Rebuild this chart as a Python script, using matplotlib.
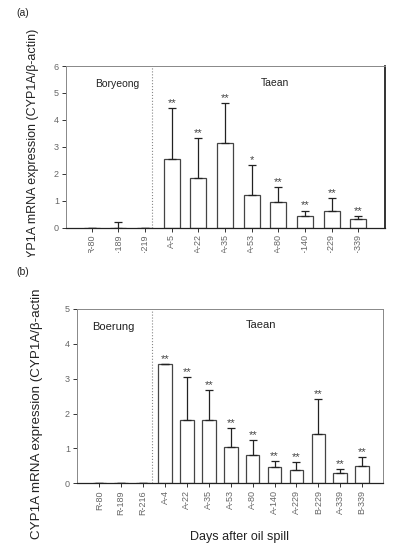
import numpy as np
import matplotlib
matplotlib.use("Agg")
import matplotlib.pyplot as plt
from matplotlib.transforms import Bbox, TransformedBbox

plt.rcParams['font.family'] = ['Liberation Sans', 'DejaVu Sans']

# ---- panel (a) data ----
a_labels = ['R-80', 'R-189', 'R-219', 'A-5', 'A-22', 'A-35', 'A-53', 'A-80', 'A-140', 'A-229', 'A-339']
a_vals = [0, 0, 0, 2.54, 1.83, 3.13, 1.19, 0.93, 0.41, 0.61, 0.31]
a_tops = [0, 0.22, 0, 4.44, 3.32, 4.61, 2.31, 1.51, 0.63, 1.10, 0.43]
a_stars = ['', '', '', '**', '**', '**', '*', '**', '**', '**', '**']

# ---- panel (b) data ----
b_labels = ['R-80', 'R-189', 'R-216', 'A-4', 'A-22', 'A-35', 'A-53', 'A-80', 'A-140', 'A-229',
            'B-229', 'A-339', 'B-339']
b_vals = [0, 0, 0, 3.42, 1.83, 1.83, 1.04, 0.81, 0.48, 0.38, 1.42, 0.29, 0.49]
b_tops = [0, 0, 0.02, 3.42, 3.06, 2.68, 1.59, 1.24, 0.64, 0.61, 2.43, 0.40, 0.75]
b_stars = ['', '', '', '**', '**', '**', '**', '**', '**', '**', '**', '**', '**']

GRAY = '#666666'
EDGE = '#444444'

fig = plt.figure(figsize=(4.0, 5.53), dpi=100)
W, H = 400.0, 553.0


def px_axes(l, t, r, b):
    return fig.add_axes([l / W, 1 - b / H, (r - l) / W, (b - t) / H])


def draw_panel(ax, labels, vals, tops, stars, ymax, xlim, divider, width):
    x = np.arange(len(labels))
    vals = np.array(vals)
    err = np.array(tops) - vals
    ax.bar(x, vals, width=width, color='white', edgecolor=EDGE, linewidth=0.9, zorder=2)
    ax.errorbar(x, vals, yerr=[np.zeros_like(err), err], fmt='none', ecolor='#222222',
                elinewidth=0.9, capsize=2.6, capthick=0.9, zorder=3)
    for xi, top, s in zip(x, tops, stars):
        if s:
            ax.annotate(s, (xi, top), xytext=(0, 0), textcoords='offset points',
                        ha='center', va='bottom', fontsize=8, color='#444444')
    ax.axvline(divider, color='#888888', linestyle=':', linewidth=0.8, zorder=1)
    ax.set_xlim(*xlim)
    ax.set_ylim(0, ymax)
    ax.set_yticks(range(ymax + 1))
    ax.set_xticks(x)
    ax.set_xticklabels(labels, rotation=90)
    ax.tick_params(axis='both', direction='out', length=3, width=0.7, colors='#333333',
                   labelcolor=GRAY, labelsize=6.5, pad=2)
    for side in ['top', 'left']:
        ax.spines[side].set_color('#888888')
        ax.spines[side].set_linewidth(0.7)
    ax.spines['bottom'].set_color('#222222')
    ax.spines['bottom'].set_linewidth(0.9)


# ---- (a) ----
ax1 = px_axes(66, 66, 385, 227.5)
draw_panel(ax1, a_labels, a_vals, a_tops, a_stars, 6, (-0.965, 11.0), 2.26, 0.6)
ax1.spines['right'].set_color('#111111')
ax1.spines['right'].set_linewidth(1.2)
ax1.text(0.97, 5.33, 'Boryeong', ha='center', va='center', fontsize=7.5, color='#222222')
ax1.text(6.88, 5.37, 'Taean', ha='center', va='center', fontsize=7.5, color='#222222')

# ---- (b) ----
ax2 = px_axes(77, 309, 383, 483.3)
draw_panel(ax2, b_labels, b_vals, b_tops, b_stars, 5, (-1.02, 12.95), 2.39, 0.62)
ax2.spines['right'].set_color('#888888')
ax2.spines['right'].set_linewidth(0.7)
ax2.text(0.63, 4.48, 'Boerung', ha='center', va='center', fontsize=8, color='#222222')
ax2.text(7.38, 4.54, 'Taean', ha='center', va='center', fontsize=8, color='#222222')

# panel letters, axis titles
fig.text(16 / W, 1 - 13 / H, '(a)', fontsize=7.5, va='center', color='#222222')
fig.text(16 / W, 1 - 272 / H, '(b)', fontsize=7.5, va='center', color='#222222')
ylab_a = fig.text(33 / W, 1 - 29 / H, 'CYP1A mRNA expression (CYP1A/\u03b2-actin)', rotation=90,
                  ha='center', va='top', fontsize=9, color='#222222')
fig.text(37 / W, 1 - 414 / H, 'CYP1A mRNA expression (CYP1A/\u03b2-actin', rotation=90,
         ha='center', va='center', fontsize=9.6, color='#222222')
fig.text(240 / W, 1 - 537 / H, 'Days after oil spill', ha='center', va='center',
         fontsize=9, color='#222222')

# panel (a) was cropped at the bottom in the source figure
fig.canvas.draw()
crop_ticks = TransformedBbox(Bbox.from_extents(0, 1 - 252.5 / H, 1, 1), fig.transFigure)
crop_label = TransformedBbox(Bbox.from_extents(0, 1 - 257 / H, 1, 1), fig.transFigure)
for lab in ax1.get_xticklabels():
    lab.set_clip_box(crop_ticks)
    lab.set_clip_on(True)
ylab_a.set_clip_box(crop_label)
ylab_a.set_clip_on(True)

fig.savefig('out.png', dpi=100)
